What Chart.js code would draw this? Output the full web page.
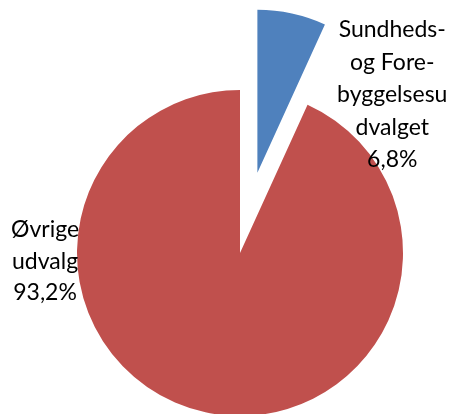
<!DOCTYPE html>
<html>
<head>
<meta charset="utf-8">
<script src="https://cdn.jsdelivr.net/npm/chart.js@4"></script>
<style>
  html, body { margin: 0; padding: 0; background: #fff; }
  #pie { display: block; }
</style>
</head>
<body>
<canvas id="pie" width="457" height="414"></canvas>
<script>
const labels = ['Sundheds- og Forebyggelsesudvalget', 'Øvrige udvalg'];
const values = [6.8, 93.2];
const colors = ['#4F81BD', '#C0504D'];
// how far each slice is pulled out of the pie, px
const explode = [82, 0];
// label lines as they wrap in the picture
const labelLines = [
  ['Sundheds-', 'og Fore-', 'byggelsesu', 'dvalget', '6,8%'],
  ['Øvrige', 'udvalg', '93,2%']
];

// chart.js' own offset also grows and narrows the arc, so move the centre instead
const explodeSlices = {
  id: 'explodeSlices',
  afterUpdate(chart) {
    chart.getDatasetMeta(0).data.forEach((arc, i) => {
      const mid = (arc.startAngle + arc.endAngle) / 2;
      arc.x += Math.cos(mid) * explode[i];
      arc.y += Math.sin(mid) * explode[i];
    });
  }
};

// draws the wrapped data labels next to each slice
const pieLabels = {
  id: 'pieLabels',
  afterDatasetsDraw(chart) {
    const arcs = chart.getDatasetMeta(0).data;
    const ctx = chart.ctx;
    const cx = arcs[1].x, cy = arcs[1].y, r = arcs[1].outerRadius;
    // position of each label block: centre x and first baseline, as fractions of radius
    const place = [
      { x: cx + 0.934 * r, y: cy - 1.325 * r, lh: 32.5 },
      { x: cx - 1.196 * r, y: cy - 0.098 * r, lh: 31.5 }
    ];
    ctx.save();
    ctx.fillStyle = '#000';
    ctx.font = '23px Lato, "Open Sans", sans-serif';
    ctx.textAlign = 'center';
    ctx.textBaseline = 'alphabetic';
    labelLines.forEach((lines, i) => {
      lines.forEach((t, j) => {
        ctx.fillText(t, place[i].x, place[i].y + j * place[i].lh);
      });
    });
    ctx.restore();
  }
};

var ctx = document.getElementById('pie').getContext('2d');

var myChart = new Chart(ctx, {
  type: 'pie',
  data: {
    labels: labels,
    datasets: [{
      data: values,
      backgroundColor: colors,
      borderWidth: 0
    }]
  },
  options: {
    responsive: false,
    animation: false,
    radius: 163,
    layout: { padding: { left: 23, right: 0, top: 92, bottom: 0 } },
    plugins: {
      legend: { display: false },
      tooltip: { enabled: false }
    }
  },
  plugins: [explodeSlices, pieLabels]
});
</script>
</body>
</html>
